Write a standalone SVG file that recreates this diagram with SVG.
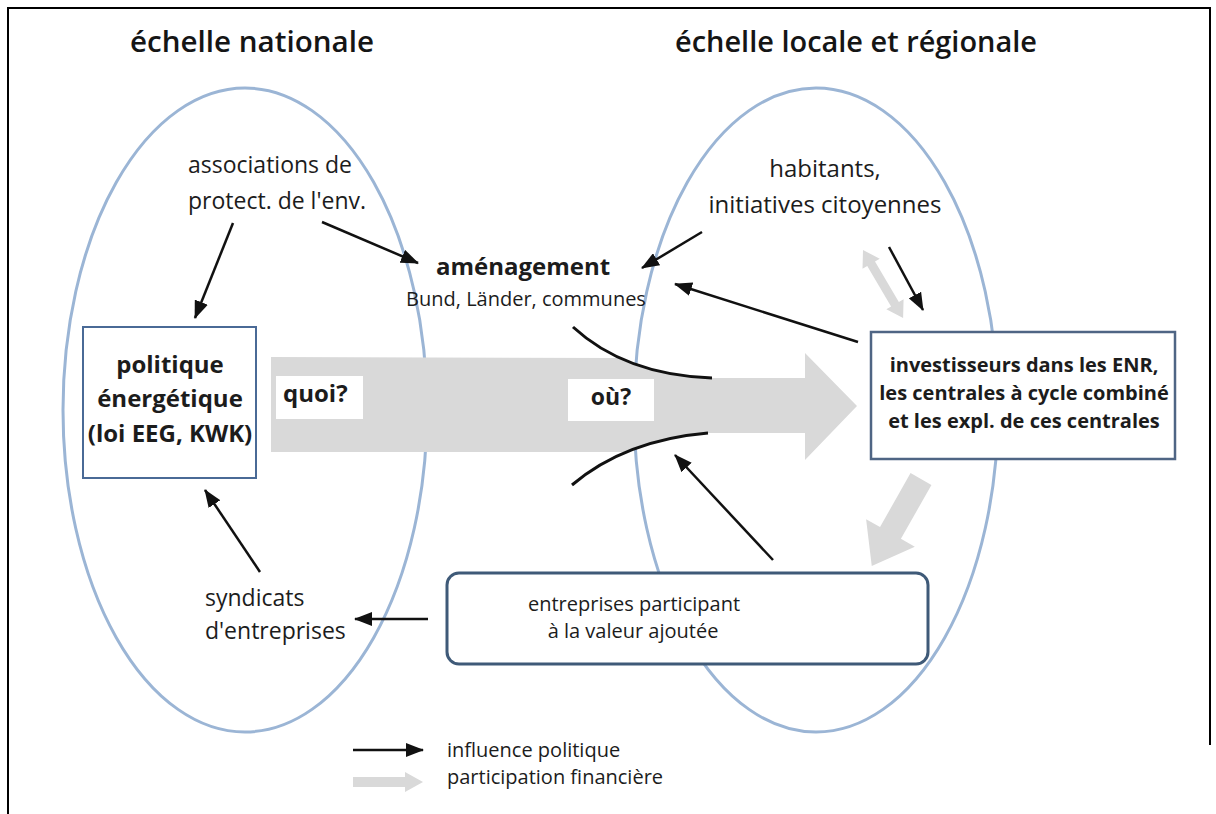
<svg xmlns="http://www.w3.org/2000/svg" width="1216" height="814" viewBox="0 0 1216 814">
<defs>
<marker id="ah" markerUnits="userSpaceOnUse" viewBox="0 0 18 14" refX="17" refY="7" markerWidth="18" markerHeight="14" orient="auto">
<path d="M0,0 L18,7 L0,14 z" fill="#111"/>
</marker>
<style>
text{font-family:"Open Sans","Liberation Sans",sans-serif;fill:#1c1c1c}
.t{font-size:29px;font-weight:600;fill:#151515}
.r{font-size:23px}
.s{font-size:20px}
.b{font-weight:bold}
.c{text-anchor:middle}
.ell{fill:none;stroke:#9bb5d5;stroke-width:3}
.con{stroke:#111;stroke-width:2.5;fill:none;marker-end:url(#ah)}
.grey{fill:#d9d9d9}
.curve{stroke:#111;stroke-width:3;fill:none}
</style>
</defs>
<rect width="1216" height="814" fill="#fff"/>
<path d="M8,814 L8,8 L1210,8 L1210,745" fill="none" stroke="#000" stroke-width="2"/>

<g id="titles">
<text class="t" x="130" y="52" textLength="244" lengthAdjust="spacingAndGlyphs">échelle nationale</text>
<text class="t" x="675" y="52" textLength="362" lengthAdjust="spacingAndGlyphs">échelle locale et régionale</text>
</g>

<g id="ellipses">
<ellipse class="ell" cx="245" cy="410" rx="182" ry="322"/>
<ellipse class="ell" cx="816" cy="410" rx="182" ry="322"/>
</g>

<g id="main-flow">
<path class="grey" d="M271,357 L620,358 Q660,376 712,378 L805,378 L805,353 L857,406 L805,460 L805,433 L708,433 Q662,437 626,452 L271,452 Z"/>
<path class="curve" d="M573,327 Q625,375 712,378"/>
<path class="curve" d="M572,485 Q625,440 708,433"/>
<rect x="276" y="376" width="87" height="43" fill="#fff"/>
<text class="b" x="283" y="402" font-size="24">quoi?</text>
<rect x="568" y="379" width="86" height="42" fill="#fff"/>
<text class="b c" x="611" y="405" font-size="23">où?</text>
</g>

<g id="politique">
<rect x="83" y="327" width="173" height="151" fill="#fff" stroke="#4a6a96" stroke-width="2"/>
<text class="b c" x="170" y="373" font-size="24">politique</text>
<text class="b c" x="170" y="407" font-size="24">énergétique</text>
<text class="b c" x="170" y="442" font-size="24">(loi EEG, KWK)</text>
</g>

<g id="associations">
<text class="r" x="188" y="173">associations de</text>
<text class="r" x="188" y="209">protect. de l'env.</text>
</g>

<g id="amenagement">
<text class="b c" x="523" y="275" font-size="24">aménagement</text>
<text class="s c" x="526" y="306">Bund, Länder, communes</text>
</g>

<g id="habitants">
<text class="c" x="825" y="177" font-size="24">habitants,</text>
<text class="c" x="825" y="213" font-size="24">initiatives citoyennes</text>
</g>

<g id="investisseurs">
<rect x="871" y="332" width="304" height="127" fill="#fff" stroke="#4f6584" stroke-width="2.5"/>
<text class="b c" x="1024" y="372" font-size="20">investisseurs dans les ENR,</text>
<text class="b c" x="1024" y="400" font-size="20">les centrales à cycle combiné</text>
<text class="b c" x="1024" y="428" font-size="20">et les expl. de ces centrales</text>
</g>

<g id="entreprises">
<rect x="447" y="573" width="481" height="91" rx="12" fill="#fff" stroke="#3f5a78" stroke-width="3"/>
<text class="s c" x="634" y="611">entreprises participant</text>
<text class="s c" x="633" y="638">à la valeur ajoutée</text>
</g>

<g id="syndicats">
<text class="r" x="205" y="606">syndicats</text>
<text class="r" x="205" y="639">d'entreprises</text>
</g>

<g id="connectors">
<line class="con" x1="233" y1="223" x2="195" y2="318"/>
<line class="con" x1="322" y1="222" x2="418" y2="263"/>
<line class="con" x1="702" y1="232" x2="642" y2="268"/>
<line class="con" x1="858" y1="342" x2="675" y2="284"/>
<line class="con" x1="889" y1="247" x2="923" y2="310"/>
<line class="con" x1="260" y1="572" x2="205" y2="490"/>
<line class="con" x1="428" y1="619" x2="355" y2="619"/>
<line class="con" x1="773" y1="560" x2="675" y2="455"/>
<polygon class="grey" transform="translate(863,250) rotate(59.5)" points="0,0 16,-10 16,-4.5 63,-4.5 63,-10 79,0 63,10 63,4.5 16,4.5 16,10"/>
<polygon class="grey" transform="translate(921,479) rotate(119.5)" points="0,-12 62,-12 62,-28 100,0 62,28 62,12 0,12"/>
</g>

<g id="legend">
<line class="con" x1="353" y1="750" x2="423" y2="750"/>
<polygon class="grey" points="353,777 405,777 405,772 423,782 405,792 405,787 353,787"/>
<text class="s" x="447" y="757">influence politique</text>
<text class="s" x="447" y="784">participation financière</text>
</g>
</svg>
